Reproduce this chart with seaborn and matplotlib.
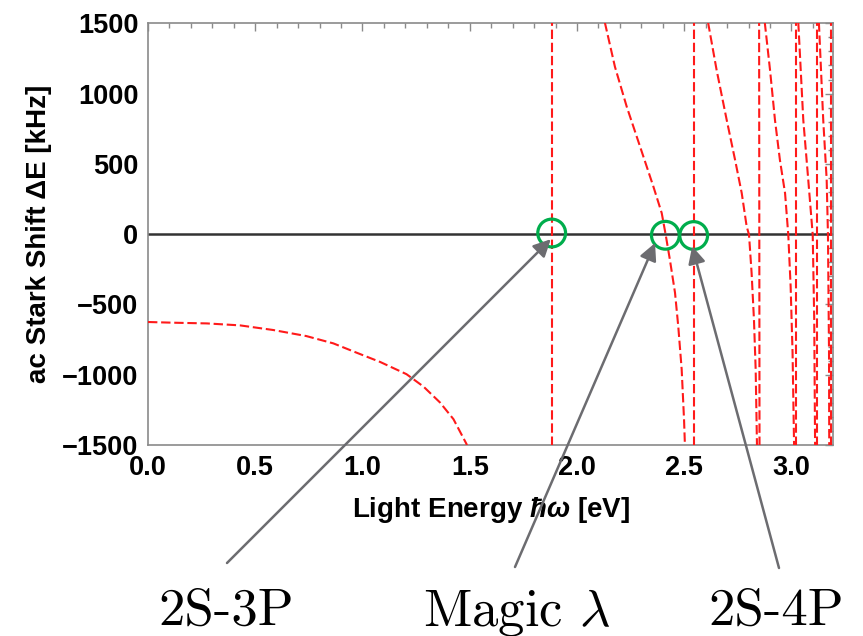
import pandas as pd
import matplotlib
matplotlib.use("Agg")
import matplotlib.pyplot as plt
import seaborn as sns
from matplotlib.ticker import MultipleLocator, FormatStrFormatter

# ac Stark shift branches: photon energy [eV], shift [kHz]
branch_a_x = [0.0, 0.118, 0.274, 0.429, 0.584, 0.738, 0.864, 0.972, 1.082, 1.205, 1.284, 1.361, 1.424, 1.485, 1.50]
branch_a_y = [-625, -630, -635, -649, -682, -725, -777, -843, -909, -996, -1084, -1197, -1316, -1493, -1600]

res_3p_x = [1.883, 1.883]
res_3p_y = [-1600, 1600]

branch_c_x = [2.125, 2.131, 2.177, 2.232, 2.294, 2.356, 2.395, 2.413, 2.433, 2.457, 2.472, 2.488, 2.499, 2.503, 2.505]
branch_c_y = [1600, 1498, 1190, 906, 623, 339, 150, 0, -181, -417, -654, -961, -1316, -1493, -1600]

res_4p_x = [2.545, 2.545]
res_4p_y = [-1600, 1600]

branch_e_x = [2.610, 2.612, 2.651, 2.698, 2.737, 2.768, 2.791, 2.802, 2.814, 2.825, 2.833, 2.839, 2.840]
branch_e_y = [1600, 1498, 1167, 812, 528, 292, 55, -4, -275, -606, -961, -1493, -1600]

res_5p_x = [2.851, 2.849]
res_5p_y = [-1600, 1600]

branch_g_x = [2.874, 2.876, 2.900, 2.923, 2.946, 2.970, 2.985, 2.996, 3.005, 3.012, 3.013]
branch_g_y = [1600, 1498, 1167, 812, 528, 292, -4, -370, -843, -1493, -1600]

res_6p_x = [3.019, 3.019]
res_6p_y = [-1600, 1600]

branch_i_x = [3.031, 3.032, 3.055, 3.078, 3.099, 3.106, 3.110, 3.111]
branch_i_y = [1600, 1498, 812, 390, -4, -606, -1493, -1600]

res_7p_x = [3.117, 3.117]
res_7p_y = [-1600, 1600]

branch_k_x = [3.127, 3.128, 3.148, 3.164, 3.170, 3.175, 3.176, 3.177]
branch_k_y = [1600, 1498, 812, 390, 0, -843, -1493, -1600]

res_8p_x = [3.184, 3.184]
res_8p_y = [-1600, 1600]

# zero crossings that are circled
circle_x = [1.882, 2.412, 2.544]
circle_y = [8, -8, -10]

# annotations: arrow head (data) and tail (figure pixels), label text
arrow_head_x = [1.878, 2.364, 2.537]
arrow_head_y = [-36, -63, -86]
arrow_tail_px = [(227, 73), (515, 69), (779, 68)]
labels = ["2S-3P", "Magic $\\lambda$", "2S-4P"]
label_px = [(226, 11), (517, 11), (776, 11)]

branches = {
    "a": (branch_a_x, branch_a_y),
    "3p": (res_3p_x, res_3p_y),
    "c": (branch_c_x, branch_c_y),
    "4p": (res_4p_x, res_4p_y),
    "e": (branch_e_x, branch_e_y),
    "5p": (res_5p_x, res_5p_y),
    "g": (branch_g_x, branch_g_y),
    "6p": (res_6p_x, res_6p_y),
    "i": (branch_i_x, branch_i_y),
    "7p": (res_7p_x, res_7p_y),
    "k": (branch_k_x, branch_k_y),
    "8p": (res_8p_x, res_8p_y),
}
rows = []
for name, (xs, ys) in branches.items():
    for xv, yv in zip(xs, ys):
        rows.append({"branch": name, "energy": xv, "shift": yv})
df = pd.DataFrame(rows)

sns.set_style("white")
plt.rcParams["font.family"] = ["Liberation Sans", "DejaVu Sans"]
plt.rcParams["font.weight"] = "bold"
plt.rcParams["text.color"] = "black"
plt.rcParams["axes.labelcolor"] = "black"
plt.rcParams["mathtext.fontset"] = "custom"
plt.rcParams["mathtext.rm"] = "Liberation Sans:bold"
plt.rcParams["mathtext.it"] = "Liberation Sans:italic:bold"
plt.rcParams["mathtext.bf"] = "Liberation Sans:bold"

fig = plt.figure(figsize=(8.63, 6.36), dpi=100)
ax = fig.add_axes([0.1715, 0.3003, 0.7941, 0.6631])

ax.axhline(0, color="#333333", lw=1.8, zorder=2)

sns.lineplot(data=df, x="energy", y="shift", units="branch", estimator=None,
             sort=False, color="#ff1a1a", lw=1.5, linestyle=(0, (4.5, 1.8)),
             legend=False, ax=ax, zorder=3)

sns.scatterplot(x=circle_x, y=circle_y, s=400, marker="o", facecolor="none",
                edgecolor="#00ad4c", linewidth=2.3, ax=ax, zorder=5, legend=False)

for hx, hy, tail in zip(arrow_head_x, arrow_head_y, arrow_tail_px):
    ax.annotate("", xy=(hx, hy), xycoords="data", xytext=tail,
                textcoords="figure pixels", annotation_clip=False,
                arrowprops=dict(arrowstyle="-|>", color="#6c6c70", lw=1.8,
                                mutation_scale=26, shrinkA=0, shrinkB=0),
                zorder=6)

for text, (px, py) in zip(labels, label_px):
    fig.text(px / 863, py / 636, text, ha="center", va="baseline",
             fontsize=38, family="cmr10", fontweight="normal",
             math_fontfamily="cm", color="black")

ax.set_xlim(0, 3.195)
ax.set_ylim(-1500, 1500)
ax.xaxis.set_major_locator(MultipleLocator(0.5))
ax.xaxis.set_minor_locator(MultipleLocator(0.1))
ax.yaxis.set_major_locator(MultipleLocator(500))
ax.yaxis.set_minor_locator(MultipleLocator(100))
ax.xaxis.set_major_formatter(FormatStrFormatter("%.1f"))

ax.tick_params(which="both", direction="in", top=True, right=True,
               color="#8a8a8a", width=1.0, labelcolor="black")
ax.tick_params(which="major", length=6)
ax.tick_params(which="minor", length=3.5)
ax.tick_params(axis="x", which="major", labelsize=19.5, pad=7)
ax.tick_params(axis="y", which="major", labelsize=19.5, pad=7)
for lab in ax.get_xticklabels() + ax.get_yticklabels():
    lab.set_fontweight("bold")

for sp in ax.spines.values():
    sp.set_color("#8a8a8a")
    sp.set_linewidth(1.2)

ax.set_xlabel("Light Energy $\\hbar\\omega$ [eV]", fontsize=20, fontweight="bold")
ax.set_ylabel("ac Stark Shift \u0394E [kHz]", fontsize=20, fontweight="bold")
ax.xaxis.set_label_coords(0.5, -0.118)
ax.yaxis.set_label_coords(-0.14, 0.5)

fig.savefig("out.png", dpi=100)
